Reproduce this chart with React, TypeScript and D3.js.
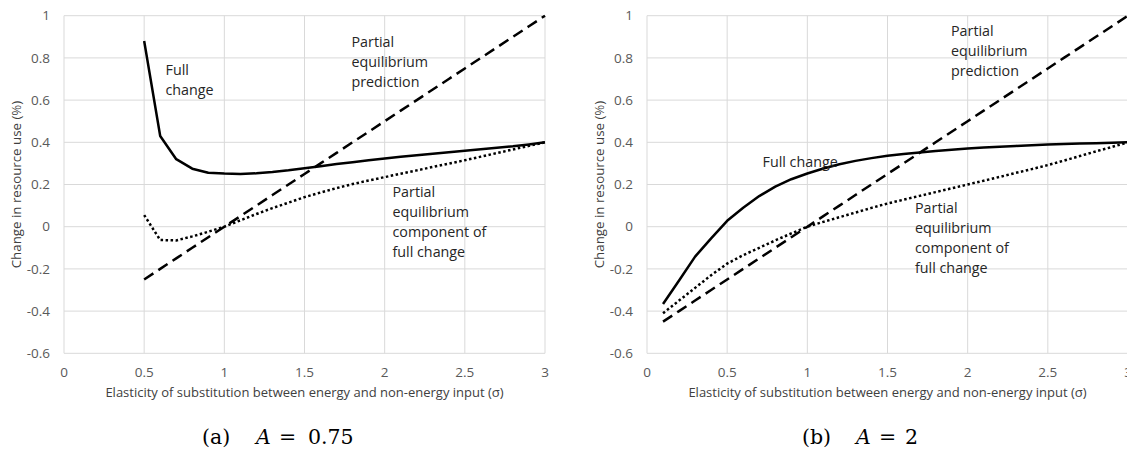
import React from 'react'
import * as d3 from 'd3'

// sigma values (x) for each panel
const sigmaA = [0.5, 0.6, 0.7, 0.8, 0.9, 1.0, 1.1, 1.2, 1.3, 1.4, 1.5, 1.6, 1.7, 1.8, 1.9, 2.0, 2.1, 2.2, 2.3, 2.4, 2.5, 2.6, 2.7, 2.8, 2.9, 3.0]
const sigmaB = [0.1, 0.2, 0.3, 0.4, 0.5, 0.6, 0.7, 0.8, 0.9, 1.0, 1.1, 1.2, 1.3, 1.4, 1.5, 1.6, 1.7, 1.8, 1.9, 2.0, 2.1, 2.2, 2.3, 2.4, 2.5, 2.6, 2.7, 2.8, 2.9, 3.0]

// (a) A = 0.75
const fullA = [0.88, 0.43, 0.32, 0.275, 0.256, 0.252, 0.25, 0.253, 0.259, 0.267, 0.277, 0.287, 0.297, 0.306, 0.315, 0.323, 0.331, 0.339, 0.346, 0.353, 0.36, 0.367, 0.374, 0.381, 0.39, 0.4]
const predA = [-0.25, -0.2, -0.15, -0.1, -0.05, 0, 0.05, 0.1, 0.15, 0.2, 0.25, 0.3, 0.35, 0.4, 0.45, 0.5, 0.55, 0.6, 0.65, 0.7, 0.75, 0.8, 0.85, 0.9, 0.95, 1.0]
const compA = [0.055, -0.063, -0.065, -0.046, -0.024, 0, 0.03, 0.06, 0.088, 0.114, 0.14, 0.162, 0.183, 0.202, 0.219, 0.235, 0.251, 0.267, 0.283, 0.299, 0.315, 0.332, 0.349, 0.366, 0.383, 0.4]

// (b) A = 2
const fullB = [-0.366, -0.255, -0.142, -0.055, 0.028, 0.09, 0.145, 0.19, 0.225, 0.252, 0.276, 0.296, 0.312, 0.325, 0.336, 0.345, 0.352, 0.359, 0.365, 0.371, 0.375, 0.379, 0.383, 0.386, 0.389, 0.392, 0.394, 0.396, 0.398, 0.4]
const predB = [-0.45, -0.4, -0.35, -0.3, -0.25, -0.2, -0.15, -0.1, -0.05, 0, 0.05, 0.1, 0.15, 0.2, 0.25, 0.3, 0.35, 0.4, 0.45, 0.5, 0.55, 0.6, 0.65, 0.7, 0.75, 0.8, 0.85, 0.9, 0.95, 1.0]
const compB = [-0.41, -0.35, -0.29, -0.23, -0.175, -0.135, -0.1, -0.065, -0.032, 0, 0.023, 0.045, 0.067, 0.089, 0.11, 0.128, 0.146, 0.164, 0.182, 0.2, 0.218, 0.236, 0.255, 0.273, 0.292, 0.313, 0.335, 0.357, 0.378, 0.4]

const xTicks = [0, 0.5, 1, 1.5, 2, 2.5, 3]
const yTicks = [-0.6, -0.4, -0.2, 0, 0.2, 0.4, 0.6, 0.8, 1]

const FONT = "'Open Sans', sans-serif"
const GRID = '#d9d9d9'
const TXT = '#595959'

const Label = ({ x, y, lines }) => (
  <text x={x} y={y} fontFamily={FONT} fontSize={14.3} fill="#262626">
    {lines.map((l, i) => (
      <tspan key={i} x={x} dy={i === 0 ? 0 : 20}>{l}</tspan>
    ))}
  </text>
)

const Panel = ({ left, sigma, full, pred, comp, labels }) => {
  const x = d3.scaleLinear().domain([0, 3]).range([left, left + 481])
  const y = d3.scaleLinear().domain([-0.6, 1]).range([353.3, 15.7])
  const line = (vals: number[]) =>
    d3.line<number>().x((_, i) => x(sigma[i])).y(d => y(d))(vals) || ''
  const fmt = (v: number) => (v < 0 ? '-' : '') + String(Math.abs(v))

  return (
    <g>
      {yTicks.map(t => (
        <line key={'h' + t} x1={x(0)} x2={x(3)} y1={y(t)} y2={y(t)} stroke={GRID} strokeWidth={1} />
      ))}
      {xTicks.map(t => (
        <line key={'v' + t} x1={x(t)} x2={x(t)} y1={y(-0.6)} y2={y(1)} stroke={GRID} strokeWidth={1} />
      ))}
      {yTicks.map(t => (
        <text key={'yl' + t} x={x(0) - 14} y={y(t)} dy="0.35em" textAnchor="end"
          fontFamily={FONT} fontSize={13.5} fill={TXT}>{fmt(t)}</text>
      ))}
      {xTicks.map(t => (
        <text key={'xl' + t} x={x(t)} y={377} textAnchor="middle"
          fontFamily={FONT} fontSize={13.5} fill={TXT}>{fmt(t)}</text>
      ))}
      <text x={(x(0) + x(3)) / 2} y={397} textAnchor="middle" fontFamily={FONT} fontSize={13} fill="#404040">
        Elasticity of substitution between energy and non-energy input (σ)
      </text>
      <text transform={`translate(${x(0) - 48},${(y(1) + y(-0.6)) / 2}) rotate(-90)`} dy="0.35em"
        textAnchor="middle" fontFamily={FONT} fontSize={13.3} fill="#404040">
        Change in resource use (%)
      </text>

      <path d={line(pred)} fill="none" stroke="#000" strokeWidth={2.5} strokeDasharray="11,6" />
      <path d={line(comp)} fill="none" stroke="#000" strokeWidth={2.5} strokeDasharray="2.5,2.5" />
      <path d={line(full)} fill="none" stroke="#000" strokeWidth={2.5} strokeLinejoin="round" />

      {labels.map((l, i) => <Label key={i} x={l.x} y={l.y} lines={l.lines} />)}
    </g>
  )
}

const Caption = ({ x0, xA, xEq, xVal, tag, val }) => (
  <g fontFamily="'DejaVu Serif', serif" fontSize={20.5} fill="#000">
    <text x={x0} y={444}>{tag}</text>
    <text x={xA} y={444} fontStyle="italic">A</text>
    <text x={xEq} y={444}>=</text>
    <text x={xVal} y={444}>{val}</text>
  </g>
)

export default function App() {
  return (
    <svg width={1127} height={449} style={{ position: 'absolute', left: 0, top: 0, background: '#fff' }}>
      <Panel left={64} sigma={sigmaA} full={fullA} pred={predA} comp={compA}
        labels={[
          { x: 165.5, y: 75, lines: ['Full', 'change'] },
          { x: 351.5, y: 46.5, lines: ['Partial', 'equilibrium', 'prediction'] },
          { x: 392.5, y: 196.5, lines: ['Partial', 'equilibrium', 'component of', 'full change'] },
        ]} />
      <Panel left={647} sigma={sigmaB} full={fullB} pred={predB} comp={compB}
        labels={[
          { x: 762.5, y: 166.5, lines: ['Full change'] },
          { x: 951, y: 36, lines: ['Partial', 'equilibrium', 'prediction'] },
          { x: 915, y: 213.3, lines: ['Partial', 'equilibrium', 'component of', 'full change'] },
        ]} />
      <Caption x0={202} xA={256} xEq={279} xVal={308} tag="(a)" val="0.75" />
      <Caption x0={802} xA={856} xEq={879} xVal={905} tag="(b)" val="2" />
    </svg>
  )
}
